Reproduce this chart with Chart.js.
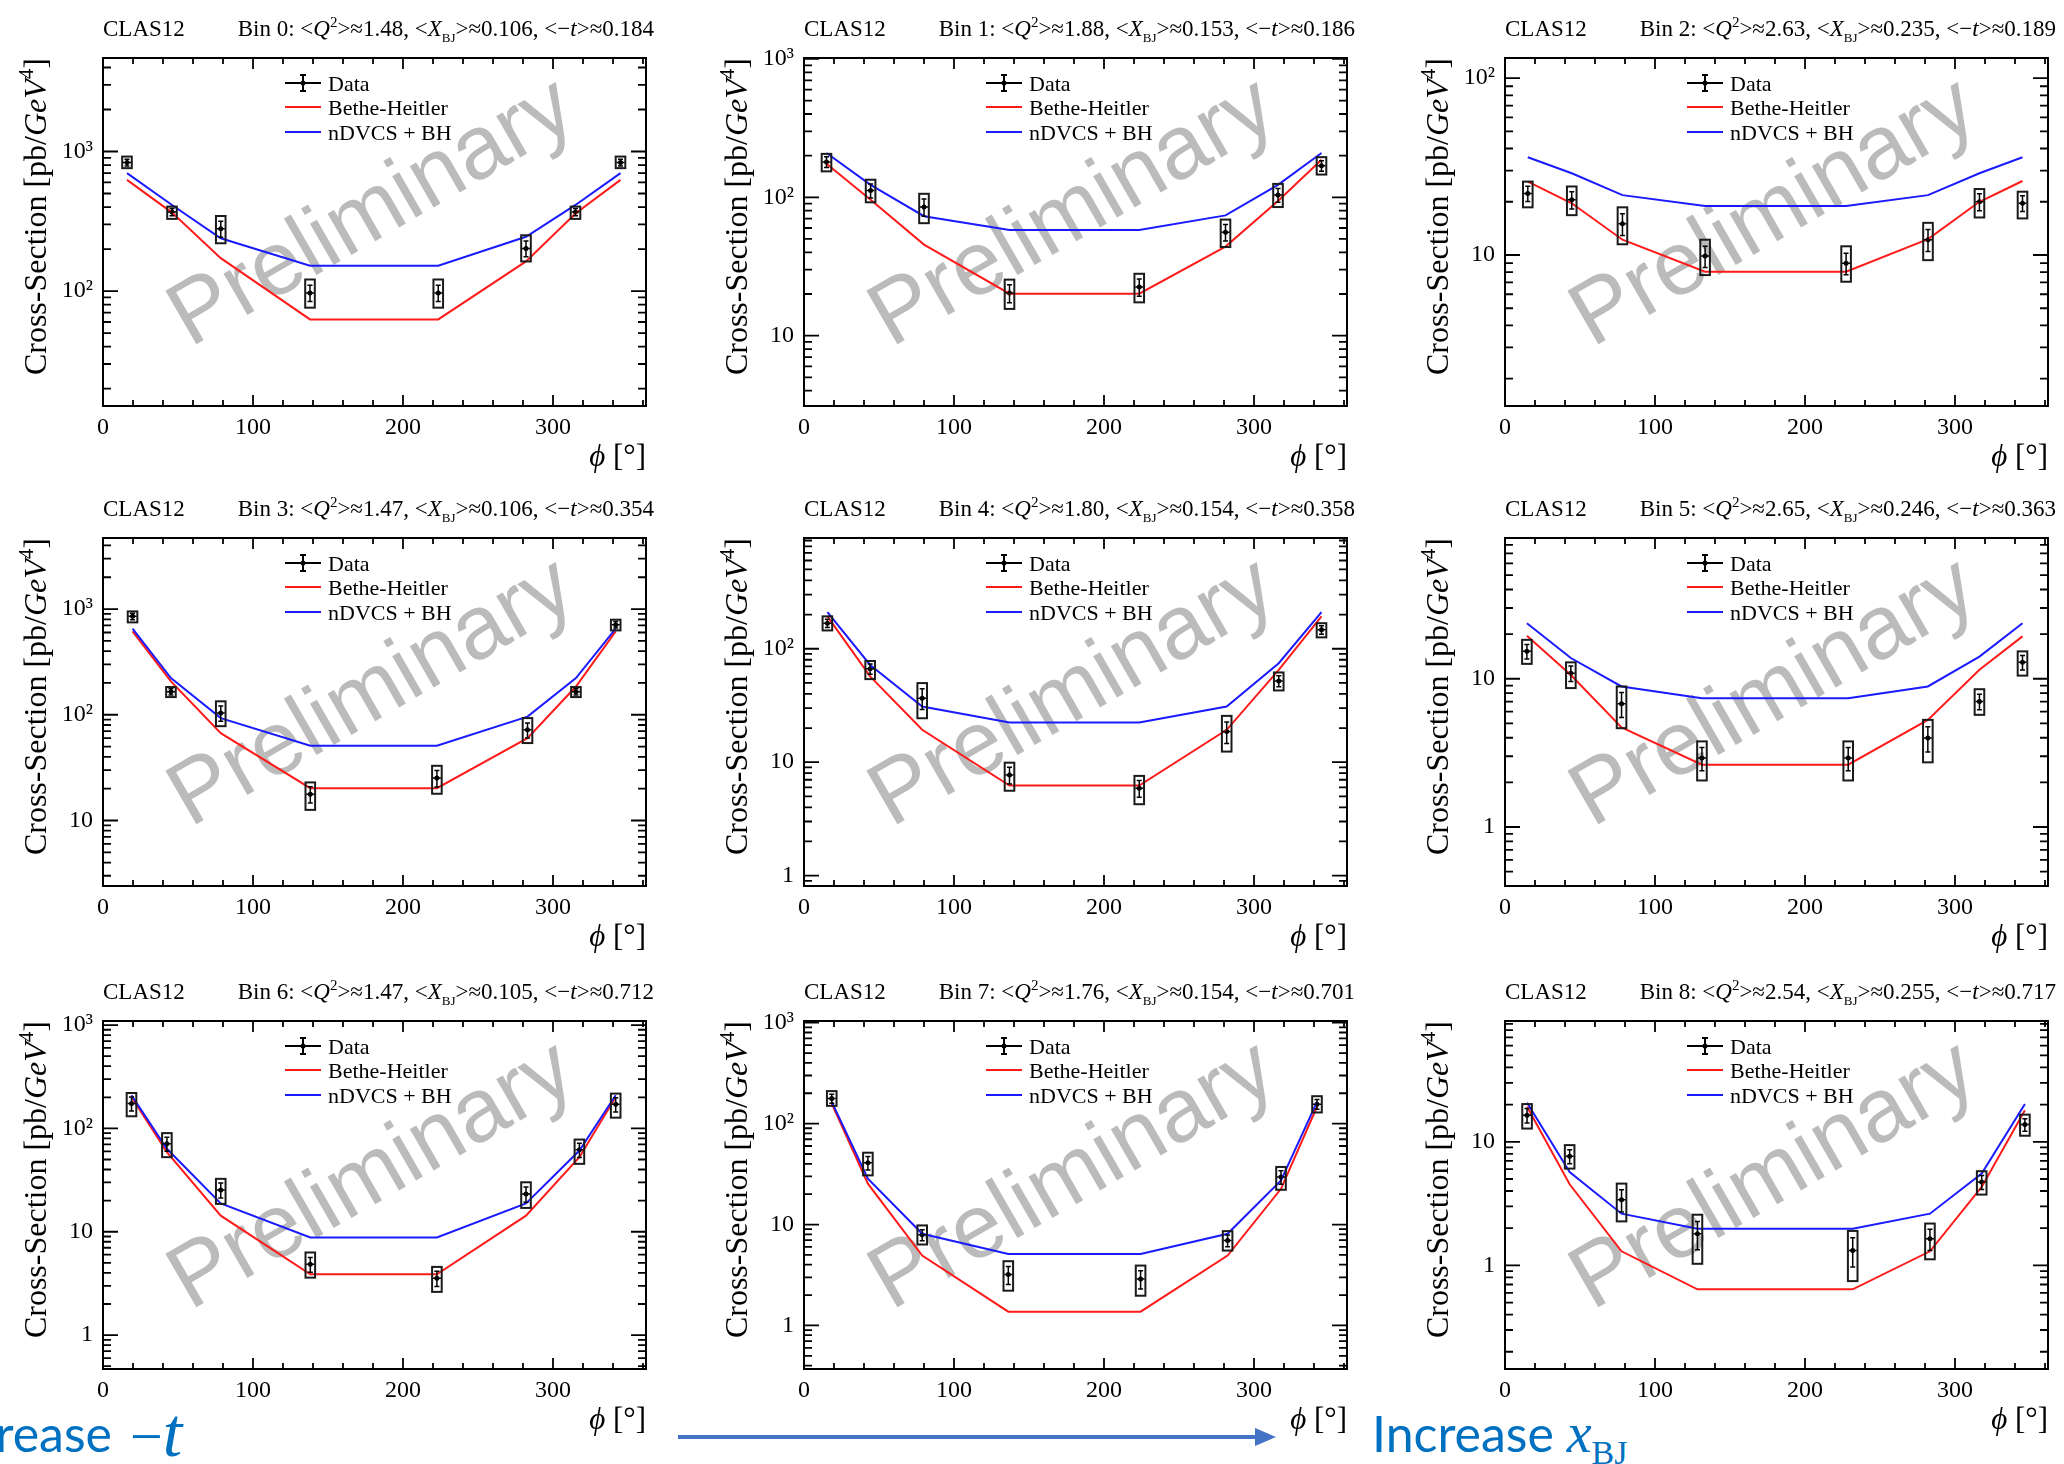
<!DOCTYPE html>
<html><head><meta charset="utf-8">
<script src="https://cdn.jsdelivr.net/npm/chart.js"></script>
<style>
html,body{margin:0;padding:0;background:#fff;}
body{width:2064px;height:1464px;overflow:hidden;position:relative;}
canvas{position:absolute;}
.ann{position:absolute;color:#0070C0;font-family:Lato,"Open Sans",sans-serif;font-size:50px;line-height:50px;white-space:nowrap;}
.mi{font-family:"Liberation Serif",serif;font-style:italic;font-size:56px;}
.mt{font-family:"Liberation Serif",serif;font-style:italic;font-size:70px;}
.mm{font-family:"Liberation Serif",serif;font-size:58px;}
.sb{font-family:"Liberation Serif",serif;font-size:34px;position:relative;top:12px;}
</style></head><body>
<svg style="position:absolute;left:0;top:0" width="2064" height="1464">
<line x1="678" y1="1437" x2="1258" y2="1437" stroke="#4472C4" stroke-width="4"/>
<polygon points="1255,1428 1276,1437 1255,1446" fill="#4472C4"/>
</svg>
<div class="ann" style="right:1952px;top:1408px;">Increase</div>
<div class="ann" style="left:130px;top:1408px;"><span class="mm">−</span><span class="mt">t</span></div>
<div class="ann" style="left:1372px;top:1408px;">Increase <span class="mi">x</span><span class="sb">BJ</span></div>
<script>
// ---------------- data ----------------
const binIndex = ['0','1','2','3','4','5','6','7','8'];
const q2Mean  = ['1.48','1.88','2.63','1.47','1.80','2.65','1.47','1.76','2.54'];
const xbjMean = ['0.106','0.153','0.235','0.106','0.154','0.246','0.105','0.154','0.255'];
const tMean   = ['0.184','0.186','0.189','0.354','0.358','0.363','0.712','0.701','0.717'];

const yMin = [15, 3.1, 1.4, 2.4, 0.81, 0.40, 0.47, 0.37, 0.145];
const yMax = [4680, 1016, 130, 4700, 947, 89, 1094, 1040, 95];

const phi = [
  [16, 46, 78.5, 138, 223.5, 282, 315, 345],
  [15, 44.4, 80, 137, 223.5, 281, 316, 345],
  [15.2, 44.5, 78.3, 133.4, 227.4, 282, 316.3, 345],
  [19.7, 45.3, 78.5, 138.2, 222.6, 283, 315.3, 341.8],
  [15.6, 44.1, 78.8, 137, 223.5, 281.8, 316.5, 345],
  [14.6, 43.9, 77.7, 131.3, 228.8, 281.9, 316.3, 345],
  [19, 42.6, 78.5, 138.2, 222.6, 282, 317.6, 341.8],
  [18.5, 42.6, 78.8, 136.2, 224.4, 282.4, 318, 342],
  [14.7, 43.1, 77.7, 128.3, 231.8, 283.3, 317.8, 346.6]
];
const xsec = [
  [834, 369, 280, 97, 97, 202, 369, 834],
  [180, 112, 85, 20.3, 22.5, 56, 104, 169],
  [22.3, 20.5, 15, 9.86, 8.97, 12.2, 20, 19.6],
  [853, 165, 104, 17.7, 25.2, 72, 165, 711],
  [168, 66.5, 36.7, 7.72, 5.9, 18.6, 52, 147],
  [15.3, 10.9, 6.78, 2.92, 2.92, 3.98, 7.03, 12.9],
  [174, 71, 25.4, 4.85, 3.55, 23.2, 62, 171],
  [177, 41, 7.9, 3.19, 2.89, 6.95, 29.6, 156],
  [16.4, 7.64, 3.4, 1.80, 1.32, 1.64, 4.73, 13.8]
];
const sysLo = [
  [760, 329, 220, 76, 76, 163, 329, 760],
  [154, 92, 65, 15.6, 17.4, 43.7, 85, 146],
  [18.6, 16.8, 11.5, 7.7, 7.06, 9.35, 16.3, 16.1],
  [748, 147, 78, 12.6, 17.9, 54, 147, 628],
  [145, 54, 24.4, 5.6, 4.26, 12.4, 42.9, 126],
  [12.6, 8.65, 4.64, 2.06, 2.06, 2.73, 5.71, 10.5],
  [131, 52.7, 18.6, 3.6, 2.62, 17, 45.4, 127],
  [150, 30.7, 6.34, 2.21, 1.97, 5.52, 22.1, 129],
  [12.8, 6.07, 2.27, 1.03, 0.746, 1.12, 3.74, 11.2]
];
const sysHi = [
  [920, 403, 345, 121, 121, 251, 403, 920],
  [206, 134, 106, 25.4, 28, 69, 125, 195],
  [26, 24.4, 18.6, 12.2, 11.2, 15.2, 23.6, 22.8],
  [950, 183, 134, 22.9, 32.9, 93, 183, 793],
  [193, 78, 49.8, 9.9, 7.57, 25.6, 61.8, 168],
  [18.3, 12.9, 8.87, 3.78, 3.78, 5.28, 8.5, 15.3],
  [220, 90, 32.5, 6.3, 4.57, 30.1, 78, 217],
  [210, 51.5, 9.8, 4.33, 3.92, 8.6, 37.2, 187],
  [20.2, 9.4, 4.59, 2.57, 1.90, 2.18, 5.78, 16.6]
];
const statErr = [
  [48, 22, 37, 13, 13, 26, 22, 48],
  [16, 13, 12, 3, 3.2, 7.6, 12, 15],
  [2.2, 2.3, 2.1, 1.35, 1.25, 1.75, 2.2, 2.0],
  [60, 11, 17, 3.1, 4.5, 11.7, 11, 50],
  [14, 7, 7.6, 1.3, 1.0, 4, 5.7, 12.6],
  [1.7, 1.3, 1.3, 0.52, 0.52, 0.77, 0.84, 1.44],
  [27, 11, 4.2, 0.8, 0.6, 3.9, 9.8, 27],
  [18, 6.2, 1.0, 0.64, 0.6, 0.92, 4.5, 17],
  [2.2, 1.0, 0.7, 0.46, 0.35, 0.32, 0.61, 1.6]
];
const bhModel = [
  [626, 365, 172, 62.6, 62.6, 163, 360, 626],
  [175, 96, 45.5, 20.1, 20.1, 44, 94, 187],
  [26, 19.6, 12.2, 8.04, 8.04, 12.3, 20, 26.2],
  [615, 207, 67, 20.2, 20.2, 60, 185, 615],
  [193, 57, 19.3, 6.22, 6.22, 19.3, 65, 193],
  [19.5, 10.6, 4.7, 2.63, 2.63, 5.28, 11.5, 19.3],
  [201, 58.9, 14.3, 3.88, 3.88, 14.3, 52.7, 201],
  [158, 25.4, 4.93, 1.37, 1.37, 4.93, 22.6, 147],
  [19.2, 4.53, 1.30, 0.64, 0.64, 1.30, 4.31, 18.0]
];
const dvcsModel = [
  [700, 414, 239, 152, 152, 245, 414, 700],
  [209, 123, 73, 58, 58, 74, 123, 209],
  [35.7, 29, 21.8, 18.9, 18.9, 21.8, 29, 35.7],
  [652, 222, 93, 51, 51, 96, 222, 652],
  [210, 72, 31, 22.4, 22.4, 31, 74.6, 210],
  [23.7, 13.8, 8.87, 7.4, 7.4, 8.87, 14.1, 23.7],
  [209, 63.5, 18.8, 8.8, 8.8, 18.8, 61, 209],
  [164, 28.5, 8.1, 5.1, 5.1, 8.1, 27.4, 164],
  [20.7, 5.7, 2.62, 1.98, 1.98, 2.62, 5.53, 20.2]
];
const legendLabels = ['Data', 'Bethe-Heitler', 'nDVCS + BH'];
const xAxisMax = 362;

// ---------------- layout / style ----------------
const colLeft = [0, 701, 1402];
const rowTop = [0, 480, 963];
const CW = 660, CH = 476, YW = 103, PADTOP = 58, XH = 70;
const BOX_HALF = 3.2;
const SERIF = '"Liberation Serif", "Times New Roman", serif';
const fN = s => s + 'px ' + SERIF;
const fI = s => 'italic ' + s + 'px ' + SERIF;
const RED = '#ff1a1a', BLUE = '#1a1aff';
const SUP = {2:'\u00B2', 3:'\u00B3', 4:'\u2074'};

function richText(ctx, segs, x, y, align) {
  let w = 0;
  for (const s of segs) { ctx.font = s[1]; s.w = ctx.measureText(s[0]).width; w += s.w; }
  let cx = align === 'right' ? x - w : (align === 'center' ? x - w / 2 : x);
  for (const s of segs) { ctx.font = s[1]; ctx.fillText(s[0], cx, y + (s[2] || 0)); cx += s.w; }
}
function seg(ctx, x1, y1, x2, y2) { ctx.moveTo(x1, y1); ctx.lineTo(x2, y2); }

const rootStyle = {
  id: 'rootStyle',
  beforeDatasetsDraw(chart) {
    const {ctx, chartArea: a} = chart;
    ctx.save();
    ctx.translate((a.left + a.right) / 2 - 2, (a.top + a.bottom) / 2 - 18);
    ctx.rotate(-30 * Math.PI / 180);
    ctx.font = '90px "Liberation Sans", Arial, sans-serif';
    ctx.fillStyle = 'rgba(120,120,120,0.5)';
    ctx.textAlign = 'center'; ctx.textBaseline = 'middle';
    ctx.fillText('Preliminary', 0, 0);
    ctx.restore();
  },
  afterDatasetsDraw(chart, args, opts) {
    const i = opts.idx;
    const {ctx, scales: {x, y}} = chart;
    ctx.save();
    for (let k = 0; k < phi[i].length; k++) {
      const px = x.getPixelForValue(phi[i][k]);
      const hw = x.getPixelForValue(phi[i][k] + BOX_HALF) - px;
      const yH = y.getPixelForValue(sysHi[i][k]);
      const yL = y.getPixelForValue(sysLo[i][k]);
      ctx.strokeStyle = '#1a1a1a'; ctx.lineWidth = 2;
      ctx.strokeRect(px - hw, yH, 2 * hw, yL - yH);
      const eT = y.getPixelForValue(xsec[i][k] + statErr[i][k]);
      const eB = y.getPixelForValue(xsec[i][k] - statErr[i][k]);
      const pv = y.getPixelForValue(xsec[i][k]);
      ctx.strokeStyle = '#000'; ctx.lineWidth = 1.5;
      ctx.beginPath();
      seg(ctx, px, eT, px, eB);
      seg(ctx, px - 2.5, eT, px + 2.5, eT);
      seg(ctx, px - 2.5, eB, px + 2.5, eB);
      seg(ctx, px - 4, pv, px + 4, pv);
      ctx.stroke();
    }
    ctx.restore();
  },
  afterDraw(chart, args, opts) {
    const i = opts.idx;
    const {ctx, chartArea: a, scales: {x, y}} = chart;
    const L = a.left, R = a.right, T = a.top, B = a.bottom;
    ctx.save();
    // ticks
    ctx.strokeStyle = '#000'; ctx.lineWidth = 1.8;
    ctx.beginPath();
    for (let v = 0; v <= x.max + 1e-9; v += 20) {
      const px = x.getPixelForValue(v);
      const len = v % 100 === 0 ? 11 : 6;
      seg(ctx, px, B, px, B - len); seg(ctx, px, T, px, T + len);
    }
    const d0 = Math.floor(Math.log10(y.min)), d1 = Math.ceil(Math.log10(y.max));
    for (let d = d0; d <= d1; d++) {
      for (let k = 1; k < 10; k++) {
        const v = k * Math.pow(10, d);
        if (v < y.min || v > y.max) continue;
        const py = y.getPixelForValue(v);
        const len = k === 1 ? 15 : 8;
        seg(ctx, L, py, L + len, py); seg(ctx, R, py, R - len, py);
      }
    }
    ctx.stroke();
    ctx.lineWidth = 2;
    ctx.strokeRect(L, T, R - L, B - T);

    // titles
    ctx.fillStyle = '#000'; ctx.textAlign = 'left'; ctx.textBaseline = 'alphabetic';
    ctx.font = fN(23);
    ctx.fillText('CLAS12', L, T - 22);
    richText(ctx, [
      ['Bin ' + binIndex[i] + ': <', fN(23)], ['Q', fI(23)], ['2', fN(15), -9],
      ['>\u2248' + q2Mean[i] + ', <', fN(23)], ['X', fI(23)], ['BJ', fN(13), 6],
      ['>\u2248' + xbjMean[i] + ', <\u2212', fN(23)], ['t', fI(23)], ['>\u2248' + tMean[i], fN(23)]
    ], L + 551, T - 22, 'right');

    // axis titles
    richText(ctx, [['\u03D5', fI(31)], [' [\u00B0]', fN(31)]], R, T + 408, 'right');
    ctx.save();
    ctx.translate(L - 57, T);
    ctx.rotate(-Math.PI / 2);
    richText(ctx, [['Cross-Section [pb/', fN(32)], ['GeV', fI(32)], ['4', fN(21), -13], [']', fN(32)]], 0, 0, 'right');
    ctx.restore();

    // legend
    const rows = [T + 25, T + 49, T + 74];
    const lx0 = L + 182, lx1 = L + 218, tx = L + 225;
    ctx.lineWidth = 2;
    ctx.strokeStyle = '#000';
    ctx.beginPath();
    seg(ctx, lx0, rows[0], lx1, rows[0]);
    seg(ctx, (lx0 + lx1) / 2, rows[0] - 8, (lx0 + lx1) / 2, rows[0] + 8);
    seg(ctx, (lx0 + lx1) / 2 - 3, rows[0] - 8, (lx0 + lx1) / 2 + 3, rows[0] - 8);
    seg(ctx, (lx0 + lx1) / 2 - 3, rows[0] + 8, (lx0 + lx1) / 2 + 3, rows[0] + 8);
    ctx.stroke();
    ctx.fillStyle = '#000';
    ctx.beginPath(); ctx.arc((lx0 + lx1) / 2, rows[0], 2.5, 0, Math.PI * 2); ctx.fill();
    ctx.strokeStyle = RED; ctx.beginPath(); seg(ctx, lx0, rows[1], lx1, rows[1]); ctx.stroke();
    ctx.strokeStyle = BLUE; ctx.beginPath(); seg(ctx, lx0, rows[2], lx1, rows[2]); ctx.stroke();
    ctx.font = fN(22); ctx.fillStyle = '#000';
    for (let r = 0; r < 3; r++) ctx.fillText(legendLabels[r], tx, rows[r] + 7.5);
    ctx.restore();
  }
};

function yLabel(v) {
  const l = Math.log10(v);
  if (Math.abs(l - Math.round(l)) > 1e-6) return '';
  const e = Math.round(l);
  if (e === 0) return '1';
  if (e === 1) return '10';
  return '10' + (SUP[e] || '^' + e);
}

for (let i = 0; i < 9; i++) {
  const cv = document.createElement('canvas');
  cv.width = CW; cv.height = CH;
  cv.style.left = colLeft[i % 3] + 'px';
  cv.style.top = rowTop[Math.floor(i / 3)] + 'px';
  cv.style.width = CW + 'px'; cv.style.height = CH + 'px';
  document.body.appendChild(cv);
  const pts = arr => phi[i].map((p, k) => ({x: p, y: arr[k]}));
  new Chart(cv, {
    type: 'scatter',
    data: {
      datasets: [
        {label: legendLabels[2], data: pts(dvcsModel[i]), showLine: true, borderColor: BLUE, borderWidth: 2, pointRadius: 0, tension: 0, fill: false},
        {label: legendLabels[1], data: pts(bhModel[i]), showLine: true, borderColor: RED, borderWidth: 2, pointRadius: 0, tension: 0, fill: false},
        {label: legendLabels[0], data: pts(xsec[i]), showLine: false, pointRadius: 2.5, pointBackgroundColor: '#000', pointBorderWidth: 0, borderColor: '#000'}
      ]
    },
    options: {
      responsive: false, animation: false, devicePixelRatio: 1,
      layout: {padding: {left: 0, top: PADTOP, right: CW - YW - 543, bottom: 0}},
      plugins: {legend: {display: false}, tooltip: {enabled: false}, title: {display: false}, rootStyle: {idx: i}},
      scales: {
        x: {
          type: 'linear', position: 'bottom', min: 0, max: xAxisMax,
          grid: {display: false, drawTicks: false}, border: {display: false},
          ticks: {stepSize: 100, includeBounds: false, padding: 7, color: '#000', font: {family: SERIF, size: 24}, maxRotation: 0},
          afterFit: s => { s.height = XH; }
        },
        y: {
          type: 'logarithmic', position: 'left', min: yMin[i], max: yMax[i],
          grid: {display: false, drawTicks: false}, border: {display: false},
          ticks: {autoSkip: false, padding: 10, color: '#000', font: {family: SERIF, size: 24}, callback: v => yLabel(v)},
          afterFit: s => { s.width = YW; }
        }
      }
    },
    plugins: [rootStyle]
  });
}
</script>
</body></html>
